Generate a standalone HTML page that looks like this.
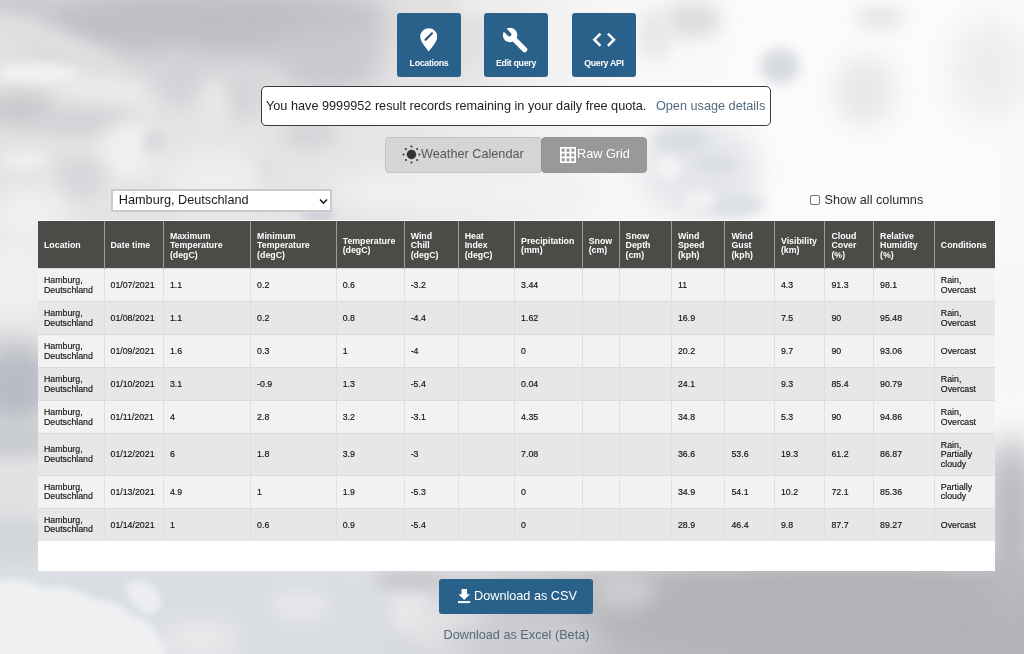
<!DOCTYPE html>
<html><head><meta charset="utf-8"><title>Weather Data</title>
<style>
*{box-sizing:border-box;margin:0;padding:0}
html,body{width:1024px;height:654px;overflow:hidden}
body{font-family:"Liberation Sans",Arial,sans-serif;position:relative;background:#d4d4d8}
#bg{position:absolute;left:0;top:0;width:1024px;height:654px;overflow:hidden}
.tb{position:absolute;top:13px;width:64px;height:64px;background:#29618b;border-radius:3px;color:#fff;font-weight:bold;font-size:8.8px;letter-spacing:-0.3px;text-align:center}
.tb span{position:absolute;left:0;right:0;top:44.9px;line-height:10px}
.tb svg{position:absolute}
#quota{position:absolute;left:261px;top:86px;width:510px;height:40px;background:#fff;border:1px solid #3a3a3a;border-radius:5px;font-size:12.7px;color:#222;line-height:38px;padding-left:4px;white-space:nowrap}
#quota a{color:#506a82;text-decoration:none;margin-left:6px}
.tg{position:absolute;top:137px;height:36px;border-radius:4px;font-size:12.7px;line-height:34px;white-space:nowrap}
#wc{left:385px;width:157px;background:#d5d5d5;border:1px solid #c3c3c3;color:#555}
#rg{left:541px;width:106px;background:#999;border:1px solid #959595;color:#fff}
#sel{position:absolute;left:110.5px;top:188.5px;width:221.5px;height:23px;background:#fff;border:2px solid #cacaca;font-size:12.7px;line-height:19px;padding-left:6.3px;color:#1a1a1a}
#chk{position:absolute;left:810px;top:195px;width:10px;height:10px;border:1px solid #777;border-radius:2px;background:#fff}
#chkl{position:absolute;left:824.5px;top:193.2px;font-size:12.7px;line-height:15px;color:#2a2a2a}
#tw{position:absolute;left:38px;top:220.3px;width:957px;height:350.7px;background:#fff;padding-top:0.7px}
table{border-collapse:collapse;table-layout:fixed;width:957px}
th{background:#4a4c48;color:#fff;font-weight:bold;font-size:8.8px;line-height:9.6px;text-align:left;padding:10.8px 6px 7.7px 6px;height:47px;border-left:1px solid #9a9c9a;vertical-align:middle}
th:first-child{border-left:none}
td{font-size:8.8px;line-height:9.6px;color:#111;padding:7.2px 6px 5.6px;border-left:1px solid #e0e0e0;border-top:1px solid #dcdcdc;-webkit-text-stroke:0.15px #111;vertical-align:middle;height:32.8px}
td:first-child{border-left:none}
tr.o td{background:#f2f2f2}
tr.e td{background:#e7e7e7}
tr.t3 td{padding-top:6.6px;padding-bottom:5.1px}
#csv{position:absolute;left:439px;top:579px;width:154px;height:35px;background:#29618b;border-radius:3px;color:#fff;font-size:12.7px;line-height:35px;white-space:nowrap}
#xl{position:absolute;left:443.5px;top:626.7px;font-size:12.7px;color:#53697e;white-space:nowrap;line-height:16px}
</style></head>
<body>
<div id="bg"><svg width="1024" height="654" viewBox="0 0 1024 654"><defs>
<filter id="f3" x="-100%" y="-100%" width="300%" height="300%"><feGaussianBlur stdDeviation="3"/></filter>
<filter id="f4" x="-100%" y="-100%" width="300%" height="300%"><feGaussianBlur stdDeviation="4"/></filter>
<filter id="f5" x="-100%" y="-100%" width="300%" height="300%"><feGaussianBlur stdDeviation="5"/></filter>
<filter id="f6" x="-100%" y="-100%" width="300%" height="300%"><feGaussianBlur stdDeviation="6"/></filter>
<filter id="f7" x="-100%" y="-100%" width="300%" height="300%"><feGaussianBlur stdDeviation="7"/></filter>
<filter id="f8" x="-100%" y="-100%" width="300%" height="300%"><feGaussianBlur stdDeviation="8"/></filter>
<filter id="f9" x="-100%" y="-100%" width="300%" height="300%"><feGaussianBlur stdDeviation="9"/></filter>
<filter id="f10" x="-100%" y="-100%" width="300%" height="300%"><feGaussianBlur stdDeviation="10"/></filter>
<filter id="f12" x="-100%" y="-100%" width="300%" height="300%"><feGaussianBlur stdDeviation="12"/></filter>
<filter id="f13" x="-100%" y="-100%" width="300%" height="300%"><feGaussianBlur stdDeviation="13"/></filter>
<filter id="f14" x="-100%" y="-100%" width="300%" height="300%"><feGaussianBlur stdDeviation="14"/></filter>
<filter id="f16" x="-100%" y="-100%" width="300%" height="300%"><feGaussianBlur stdDeviation="16"/></filter>
<filter id="f18" x="-100%" y="-100%" width="300%" height="300%"><feGaussianBlur stdDeviation="18"/></filter>
<linearGradient id="g0" x1="0" y1="0" x2="1" y2="0"><stop offset="0" stop-color="#e3e3e5"/><stop offset="0.4" stop-color="#e6e6e8"/><stop offset="0.6" stop-color="#f7f7f7"/><stop offset="0.75" stop-color="#fbfbfb"/><stop offset="1" stop-color="#fafafa"/></linearGradient>
<linearGradient id="g1" x1="0" y1="0" x2="1" y2="0"><stop offset="0" stop-color="#d9dde3"/><stop offset="0.36" stop-color="#dadde2"/><stop offset="0.58" stop-color="#bfc0c4"/><stop offset="1" stop-color="#b4b5b9"/></linearGradient>
<linearGradient id="gv" x1="0" y1="0" x2="0" y2="1"><stop offset="0" stop-color="#000"/><stop offset="0.3" stop-color="#fff"/><stop offset="1" stop-color="#fff"/></linearGradient><mask id="m1" maskUnits="userSpaceOnUse" x="0" y="0" width="1024" height="654"><rect y="550" width="1024" height="104" fill="url(#gv)"/></mask>
</defs>
<rect width="1024" height="654" fill="url(#g0)"/>
<rect y="550" width="1024" height="104" fill="url(#g1)" mask="url(#m1)"/>
<g filter="url(#f18)"><ellipse cx="210" cy="22" rx="190" ry="40" fill="#bdbec2"/></g>
<g filter="url(#f16)"><ellipse cx="330" cy="60" rx="55" ry="35" fill="#c7c8cc"/></g>
<g filter="url(#f8)"><ellipse cx="15" cy="6" rx="40" ry="14" fill="#c8c9cd"/></g>
<g filter="url(#f16)"><ellipse cx="450" cy="28" rx="50" ry="55" fill="#e0e0e1"/></g>
<g filter="url(#f8)"><ellipse cx="495" cy="5" rx="40" ry="12" fill="#eeeeee"/></g>
<g filter="url(#f9)"><ellipse cx="55" cy="42" rx="75" ry="11" fill="#e2e2e4" transform="rotate(22 55 42)"/></g>
<g filter="url(#f5)"><ellipse cx="38" cy="74" rx="42" ry="10" fill="#f2f2f2"/></g>
<g filter="url(#f8)"><ellipse cx="110" cy="92" rx="55" ry="13" fill="#eaeaec" transform="rotate(10 110 92)"/></g>
<g filter="url(#f9)"><ellipse cx="20" cy="110" rx="35" ry="18" fill="#cacace"/></g>
<g filter="url(#f9)"><ellipse cx="85" cy="122" rx="55" ry="14" fill="#d2d2d6"/></g>
<g filter="url(#f12)"><ellipse cx="180" cy="80" rx="28" ry="28" fill="#d2d3d7"/></g>
<g filter="url(#f12)"><ellipse cx="240" cy="95" rx="30" ry="25" fill="#d4d4d8"/></g>
<g filter="url(#f10)"><ellipse cx="130" cy="150" rx="30" ry="30" fill="#f0f0f0"/></g>
<g filter="url(#f6)"><ellipse cx="25" cy="160" rx="25" ry="10" fill="#eeeeee"/></g>
<g filter="url(#f9)"><ellipse cx="80" cy="178" rx="25" ry="22" fill="#d8d8dc"/></g>
<g filter="url(#f6)"><ellipse cx="155" cy="142" rx="12" ry="14" fill="#d8dadd"/></g>
<g filter="url(#f9)"><ellipse cx="310" cy="135" rx="30" ry="14" fill="#d4d4d8"/></g>
<g filter="url(#f7)"><ellipse cx="262" cy="172" rx="14" ry="14" fill="#dcdcdf"/></g>
<g filter="url(#f4)"><ellipse cx="318" cy="216" rx="18" ry="5" fill="#c8ccd4"/></g>
<g filter="url(#f12)"><ellipse cx="30" cy="215" rx="40" ry="28" fill="#f0f0f0"/></g>
<g filter="url(#f12)"><ellipse cx="15" cy="280" rx="35" ry="45" fill="#f0f0f0"/></g>
<g filter="url(#f12)"><ellipse cx="215" cy="178" rx="50" ry="25" fill="#efefef"/></g>
<g filter="url(#f8)"><ellipse cx="215" cy="105" rx="14" ry="25" fill="#e8e8e8"/></g>
<g filter="url(#f12)"><ellipse cx="460" cy="192" rx="130" ry="22" fill="#f1f1f1"/></g>
<g filter="url(#f9)"><ellipse cx="692" cy="20" rx="30" ry="18" fill="#dddddf"/></g>
<g filter="url(#f8)"><ellipse cx="655" cy="35" rx="18" ry="25" fill="#e8e8e9"/></g>
<g filter="url(#f6)"><ellipse cx="780" cy="66" rx="20" ry="18" fill="#d8dbe1"/></g>
<g filter="url(#f12)"><ellipse cx="865" cy="91" rx="30" ry="35" fill="#e8e8ea"/></g>
<g filter="url(#f8)"><ellipse cx="880" cy="18" rx="25" ry="12" fill="#e6e6e8"/></g>
<g filter="url(#f14)"><ellipse cx="990" cy="70" rx="40" ry="50" fill="#eeeeef"/></g>
<g filter="url(#f14)"><ellipse cx="700" cy="170" rx="60" ry="48" fill="#e4e6ea"/></g>
<g filter="url(#f7)"><ellipse cx="680" cy="140" rx="28" ry="12" fill="#d8dbe1"/></g>
<g filter="url(#f6)"><ellipse cx="715" cy="165" rx="22" ry="9" fill="#dadde2"/></g>
<g filter="url(#f5)"><ellipse cx="668" cy="168" rx="14" ry="12" fill="#f3f3f4"/></g>
<g filter="url(#f7)"><ellipse cx="735" cy="205" rx="30" ry="12" fill="#dcdfe3"/></g>
<g filter="url(#f5)"><ellipse cx="700" cy="200" rx="16" ry="10" fill="#f2f2f3"/></g>
<g filter="url(#f13)"><ellipse cx="15" cy="385" rx="40" ry="42" fill="#b9bcc4"/></g>
<g filter="url(#f10)"><ellipse cx="15" cy="440" rx="40" ry="18" fill="#c6c9cf"/></g>
<g filter="url(#f10)"><ellipse cx="15" cy="490" rx="40" ry="20" fill="#e2e2e4"/></g>
<g filter="url(#f10)"><ellipse cx="15" cy="540" rx="40" ry="25" fill="#d2d5d9"/></g>
<g filter="url(#f10)"><ellipse cx="200" cy="640" rx="40" ry="20" fill="#e8e8ea"/></g>
<g filter="url(#f8)"><ellipse cx="300" cy="605" rx="30" ry="15" fill="#e6e7ea"/></g>
<g filter="url(#f9)"><ellipse cx="410" cy="610" rx="22" ry="25" fill="#e8e8ea"/></g>
<g filter="url(#f10)"><ellipse cx="450" cy="630" rx="38" ry="26" fill="#e4e4e6"/></g>
<g filter="url(#f7)"><ellipse cx="410" cy="580" rx="35" ry="10" fill="#c8c8cc"/></g>
<g filter="url(#f18)"><ellipse cx="830" cy="615" rx="240" ry="55" fill="#b2b3b7"/></g>
<g filter="url(#f12)"><ellipse cx="520" cy="640" rx="80" ry="20" fill="#cdcdd1"/></g>
<g filter="url(#f10)"><ellipse cx="625" cy="590" rx="30" ry="20" fill="#ccccd0"/></g>
<g filter="url(#f12)"><ellipse cx="1012" cy="330" rx="30" ry="75" fill="#f6f6f6"/></g>
<g filter="url(#f16)"><ellipse cx="1012" cy="530" rx="30" ry="95" fill="#b8b8bf"/></g>
<g filter="url(#f3)"><path d="M-5 582C10 576 30 580 45 588C60 583 80 590 95 600C110 598 125 606 132 616C148 616 160 630 168 660L-5 660Z" fill="#eef0f2"/><path d="M125 585C135 578 150 580 158 592C165 600 160 612 150 615C138 612 128 600 125 585Z" fill="#eceef0"/></g>
</svg></div>

<div class="tb" style="left:397px">
<svg style="left:22.6px;top:14.6px" width="17.7" height="24" viewBox="0 0 17 23"><path d="M8.4 22.6C6.2 19.4 0.2 13.4 0.2 8.4A8.2 8.2 0 0 1 16.6 8.4C16.6 13.4 10.6 19.4 8.4 22.6z" fill="#fff"/><path d="M5.3 11.3L9.6 7M10.6 6L11.5 5.1" stroke="#1f4d74" stroke-width="2" stroke-linecap="round"/></svg>
<span>Locations</span></div>
<div class="tb" style="left:484px">
<svg style="left:14.4px;top:9.5px" width="33.5" height="33.5" viewBox="0 0 36 36"><circle cx="13" cy="13" r="7.8" fill="#fff"/><path d="M13 13L28.6 28.6" stroke="#fff" stroke-width="5.8" stroke-linecap="round"/><path d="M12.2 12.2L3.5 3.5" stroke="#29618b" stroke-width="4.4" stroke-linecap="round"/></svg>
<span>Edit query</span></div>
<div class="tb" style="left:572px">
<svg style="left:15px;top:15px" width="32" height="24" viewBox="0 0 32 24"><path d="M12.5 6.6L7.3 11.7 12.5 16.9M21.8 6.6L27 11.7 21.8 16.9" stroke="#fff" stroke-width="2.5" fill="none" stroke-linecap="square"/></svg>
<span>Query API</span></div>

<div id="quota">You have 9999952 result records remaining in your daily free quota. <a>Open usage details</a></div>

<div class="tg" id="wc"><svg style="position:absolute;left:16px;top:7px" width="19" height="19" viewBox="0 0 19 19"><circle cx="9.5" cy="9.5" r="4.7" fill="#333"/><g fill="#333"><circle cx="9.5" cy="1.6" r="1"/><circle cx="9.5" cy="17.4" r="1"/><circle cx="1.6" cy="9.5" r="1"/><circle cx="17.4" cy="9.5" r="1"/><circle cx="3.9" cy="3.9" r="1"/><circle cx="15.1" cy="3.9" r="1"/><circle cx="3.9" cy="15.1" r="1"/><circle cx="15.1" cy="15.1" r="1"/></g></svg><span style="position:absolute;left:35px;top:-0.7px">Weather Calendar</span></div>
<div class="tg" id="rg"><svg style="position:absolute;left:17.5px;top:9px" width="16" height="16" viewBox="0 0 16 16"><rect width="16" height="16" fill="#fff"/><g fill="#999"><rect x="1.7" y="1.7" width="3" height="3"/><rect x="1.7" y="6.5" width="3" height="3"/><rect x="1.7" y="11.3" width="3" height="3"/><rect x="6.5" y="1.7" width="3" height="3"/><rect x="6.5" y="6.5" width="3" height="3"/><rect x="6.5" y="11.3" width="3" height="3"/><rect x="11.3" y="1.7" width="3" height="3"/><rect x="11.3" y="6.5" width="3" height="3"/><rect x="11.3" y="11.3" width="3" height="3"/></g></svg><span style="position:absolute;left:35px;top:-0.7px">Raw Grid</span></div>

<div id="sel">Hamburg, Deutschland<svg style="position:absolute;left:206px;top:7px" width="9" height="7" viewBox="0 0 9 7"><path d="M1 1.5l3.5 3.5 3.5-3.5" stroke="#222" stroke-width="1.6" fill="none"/></svg></div>
<div id="chk"></div><div id="chkl">Show all columns</div>

<div id="tw">
<table>
<colgroup><col style="width:66px"><col style="width:59.4px"><col style="width:87.2px"><col style="width:85.6px"><col style="width:68px"><col style="width:54px"><col style="width:56.4px"><col style="width:67.6px"><col style="width:36.9px"><col style="width:52.4px"><col style="width:53.5px"><col style="width:49.5px"><col style="width:50.5px"><col style="width:48.6px"><col style="width:60.8px"><col style="width:60.6px"></colgroup>
<tr><th>Location</th><th>Date time</th><th>Maximum Temperature (degC)</th><th>Minimum Temperature (degC)</th><th>Temperature (degC)</th><th>Wind Chill (degC)</th><th>Heat Index (degC)</th><th>Precipitation (mm)</th><th>Snow (cm)</th><th>Snow Depth (cm)</th><th>Wind Speed (kph)</th><th>Wind Gust (kph)</th><th>Visibility (km)</th><th>Cloud Cover (%)</th><th>Relative Humidity (%)</th><th>Conditions</th></tr>
<tr class="o"><td>Hamburg, Deutschland</td><td>01/07/2021</td><td>1.1</td><td>0.2</td><td>0.6</td><td>-3.2</td><td></td><td>3.44</td><td></td><td></td><td>11</td><td></td><td>4.3</td><td>91.3</td><td>98.1</td><td>Rain, Overcast</td></tr>
<tr class="e"><td>Hamburg, Deutschland</td><td>01/08/2021</td><td>1.1</td><td>0.2</td><td>0.8</td><td>-4.4</td><td></td><td>1.62</td><td></td><td></td><td>16.9</td><td></td><td>7.5</td><td>90</td><td>95.48</td><td>Rain, Overcast</td></tr>
<tr class="o"><td>Hamburg, Deutschland</td><td>01/09/2021</td><td>1.6</td><td>0.3</td><td>1</td><td>-4</td><td></td><td>0</td><td></td><td></td><td>20.2</td><td></td><td>9.7</td><td>90</td><td>93.06</td><td>Overcast</td></tr>
<tr class="e"><td>Hamburg, Deutschland</td><td>01/10/2021</td><td>3.1</td><td>-0.9</td><td>1.3</td><td>-5.4</td><td></td><td>0.04</td><td></td><td></td><td>24.1</td><td></td><td>9.3</td><td>85.4</td><td>90.79</td><td>Rain, Overcast</td></tr>
<tr class="o"><td>Hamburg, Deutschland</td><td>01/11/2021</td><td>4</td><td>2.8</td><td>3.2</td><td>-3.1</td><td></td><td>4.35</td><td></td><td></td><td>34.8</td><td></td><td>5.3</td><td>90</td><td>94.86</td><td>Rain, Overcast</td></tr>
<tr class="e t3"><td>Hamburg, Deutschland</td><td>01/12/2021</td><td>6</td><td>1.8</td><td>3.9</td><td>-3</td><td></td><td>7.08</td><td></td><td></td><td>36.6</td><td>53.6</td><td>19.3</td><td>61.2</td><td>86.87</td><td>Rain, Partially cloudy</td></tr>
<tr class="o"><td>Hamburg, Deutschland</td><td>01/13/2021</td><td>4.9</td><td>1</td><td>1.9</td><td>-5.3</td><td></td><td>0</td><td></td><td></td><td>34.9</td><td>54.1</td><td>10.2</td><td>72.1</td><td>85.36</td><td>Partially cloudy</td></tr>
<tr class="e"><td>Hamburg, Deutschland</td><td>01/14/2021</td><td>1</td><td>0.6</td><td>0.9</td><td>-5.4</td><td></td><td>0</td><td></td><td></td><td>28.9</td><td>46.4</td><td>9.8</td><td>87.7</td><td>89.27</td><td>Overcast</td></tr>
</table>
</div>

<div id="csv"><svg style="position:absolute;left:19px;top:10px" width="13" height="15" viewBox="0 0 13 15"><path d="M3.5 0H9V5.3H11.9L6.2 11.1 0.5 5.3H3.5Z" fill="#fff"/><rect x="0" y="12.1" width="12.2" height="2" fill="#fff"/></svg><span style="position:absolute;left:35px">Download as CSV</span></div>
<div id="xl">Download as Excel (Beta)</div>
</body></html>
